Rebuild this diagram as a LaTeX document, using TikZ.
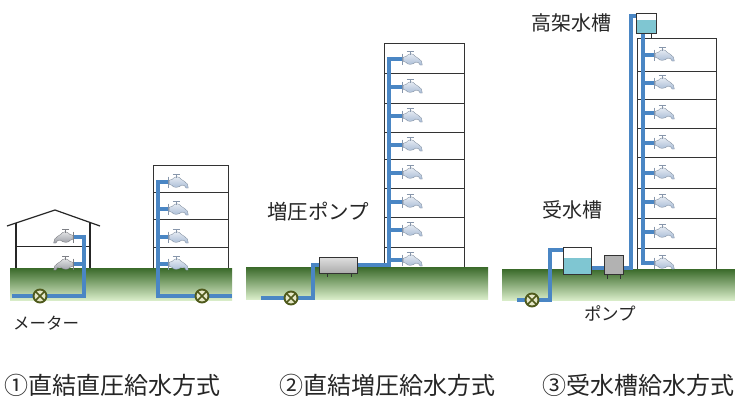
\documentclass[tikz,border=0pt]{standalone}
\usepackage{fontspec}
\newfontfamily\jp{Noto Sans CJK JP}
\usetikzlibrary{calc}

\definecolor{pipeblue}{HTML}{4A86C4}
\definecolor{groundtop}{HTML}{3A6A2A}
\definecolor{groundmid}{HTML}{7FA866}
\definecolor{groundbot}{HTML}{D8ECC8}
\definecolor{valvegreen}{HTML}{4F5A1C}
\definecolor{valvefill}{HTML}{E6E8C8}
\definecolor{water}{HTML}{7FC6D2}
\definecolor{faucetblue}{HTML}{A9BCD6}
\definecolor{faucetgray}{HTML}{9C9FA6}
\definecolor{linegray}{HTML}{333333}

\tikzset{
  pipe/.style={draw=pipeblue, line width=4.3pt},
  wall/.style={draw=linegray, line width=0.8pt},
  roof/.style={draw=black!85, line width=1.2pt},
  ground/.style={top color=groundtop, middle color=groundmid, bottom color=groundbot, draw=none},
  valve/.style={circle, draw=valvegreen, line width=1.9pt, fill=valvefill,
    minimum size=13pt, inner sep=0pt,
    path picture={\draw[valvegreen, line width=1.5pt]
      (path picture bounding box.north west) -- (path picture bounding box.south east)
      (path picture bounding box.north east) -- (path picture bounding box.south west);}},
  tankbox/.style={draw=linegray, line width=0.8pt, fill=white, inner sep=0pt,
    path picture={\fill[water] (path picture bounding box.south west) rectangle
      ($(path picture bounding box.north east)!#1!(path picture bounding box.south east)$);}},
  pumpbox/.style={draw=linegray, line width=0.8pt, inner sep=0pt},
  leg/.style={draw=linegray, line width=0.8pt},
  lbl/.style={text=black!85, inner sep=0pt, font=\jp\fontsize{#1}{#1}\selectfont},
  pics/faucet/.style={code={
    \begin{scope}[scale=1.1]
    \draw[#1!80!black, line width=0.5pt] (0.5,-5) -- (0.5,5);
    \shade[top color=#1!25!white, bottom color=#1, draw=#1!70!black, line width=0.3pt]
      (1,-1.5) -- (4,-2.5) .. controls (6,-5.5) and (10,-5.5) .. (12,-2.5)
      -- (15,-0.5) .. controls (17.5,0.5) and (18.5,3) .. (18.5,5.5)
      -- (16.5,5.5) .. controls (16,3.5) and (14.5,2.8) .. (12.5,2.8)
      .. controls (9.5,5.5) and (5,5.5) .. (3.5,3) -- (1,2) -- cycle;
    \draw[#1!80!black, line width=0.6pt] (7.5,-3.5) -- (7.5,-7) (4.5,-7) -- (10.5,-7);
    \end{scope}
  }},
  pics/faucet/.default=faucetblue
}

\begin{document}
\begin{tikzpicture}[x=1pt, y=-1pt]
\useasboundingbox[fill=white] (0,0) rectangle (735,400);

% ---------- ground strips ----------
\shade[ground] (10,268) rectangle (232,300);
\shade[ground] (246,267) rectangle (488,299);
\shade[ground] (502,269) rectangle (735,300);

% ---------- (1) direct pressure: house ----------
\draw[roof] (7,226) -- (55,210) -- (100,226);
\draw[roof] (16,223) -- (16,268) (90,222.4) -- (90,268);
\draw[roof, line width=0.8pt] (16,246) -- (90,246);

% ---------- (1) direct pressure: 4-storey block ----------
\draw[wall] (153,268) -- (153,165) -- (228,165) -- (228,268);
\foreach \y in {192,219,247} \draw[wall] (153,\y) -- (228,\y);

% house piping
\draw[pipe] (12,296) -- (84,296) -- (84,237) -- (74,237);
\draw[pipe] (84,264) -- (74,264);
\foreach \y in {237,264} \pic[xscale=-1] at (74,\y) {faucet=faucetgray};
\node[valve] (v1) at (40,296) {};

% block piping
\draw[pipe] (168,182) -- (158,182) -- (158,296) -- (232,296);
\foreach \y in {209,237,264} \draw[pipe] (158,\y) -- (168,\y);
\foreach \y in {182,209,237,264} \pic at (168,\y) {faucet};
\node[valve] (v2) at (202,296) {};

% ---------- (2) booster pump ----------
\draw[wall] (384,267) -- (384,43) -- (464,43) -- (464,267);
\foreach \y in {73,103,132,159,188,217,247} \draw[wall] (384,\y) -- (464,\y);

\node[pumpbox, minimum width=38pt, minimum height=16pt,
      top color=gray!25, bottom color=gray!65] (p2) at (338,265) {};
\draw[leg] (327,273) -- (327,277) (351,273) -- (351,277);

\draw[pipe] (402,59) -- (389,59) -- (389,265) -- (p2.east);
\draw[pipe] (p2.west) -- (313,265) -- (313,298) -- (261,298);
\foreach \y in {87,116,145,173,202,230,260} \draw[pipe] (389,\y) -- (402,\y);
\foreach \y in {59,87,116,145,173,202,230,260} \pic at (402,\y) {faucet};
\node[pumpbox, minimum width=38pt, minimum height=16pt,
      top color=gray!25, bottom color=gray!65] at (p2) {};
\node[valve] (v3) at (291,298) {};

% ---------- (3) receiving tank + elevated tank ----------
\draw[wall] (637,269) -- (637,38) -- (716,38) -- (716,269);
\foreach \y in {71,99,128,157,188,218,248} \draw[wall] (637,\y) -- (716,\y);

\node[tankbox=0.35, minimum width=20pt, minimum height=20pt] (ht) at (646,23) {};
\draw[leg] (641,33) -- (641,38) (651,33) -- (651,38);

\node[tankbox=0.41, minimum width=28pt, minimum height=27pt] (rt) at (577,260.5) {};
\node[pumpbox, fill=gray!60, minimum width=19pt, minimum height=19pt] (p3) at (613.5,264.5) {};
\draw[leg] (607,274) -- (607,279) (620,274) -- (620,279);

\draw[pipe] (rt.west |- 0,250) -- (550,250) -- (550,300) -- (517,300);
\draw[pipe] (rt.east |- 0,268) -- (p3.west |- 0,268);
\draw[pipe] (p3.east |- 0,268) -- (631,268) -- (631,16) -- (ht.west |- 0,16);
\draw[pipe] (643,33) -- (643,263) -- (654,263);
\foreach \y in {55,83,113,143,173,202,232} \draw[pipe] (643,\y) -- (654,\y);
\foreach \y in {55,83,113,143,173,202,232,263} \pic at (654,\y) {faucet};
\node[tankbox=0.35, minimum width=20pt, minimum height=20pt] at (ht) {};
\node[tankbox=0.41, minimum width=28pt, minimum height=27pt] at (rt) {};
\node[pumpbox, fill=gray!60, minimum width=19pt, minimum height=19pt] at (p3) {};
\node[valve] (v4) at (532,300) {};

% ---------- labels ----------
\node[lbl=16.5, anchor=west] (meter) at (13,323) {メーター};
\node[lbl=20.5, anchor=west] (boost) at (267,212) {増圧ポンプ};
\node[lbl=20, anchor=west] (hightank) at (531,23) {高架水槽};
\node[lbl=20, anchor=west] (recvtank) at (542,210) {受水槽};
\node[lbl=17.5, anchor=west] (pump) at (584,313) {ポンプ};

\node[lbl=24, anchor=west] (t1) at (4,385) {①直結直圧給水方式};
\node[lbl=24, anchor=west] (t2) at (279,385) {②直結増圧給水方式};
\node[lbl=24, anchor=west] (t3) at (542,385) {③受水槽給水方式};
\end{tikzpicture}
\end{document}
